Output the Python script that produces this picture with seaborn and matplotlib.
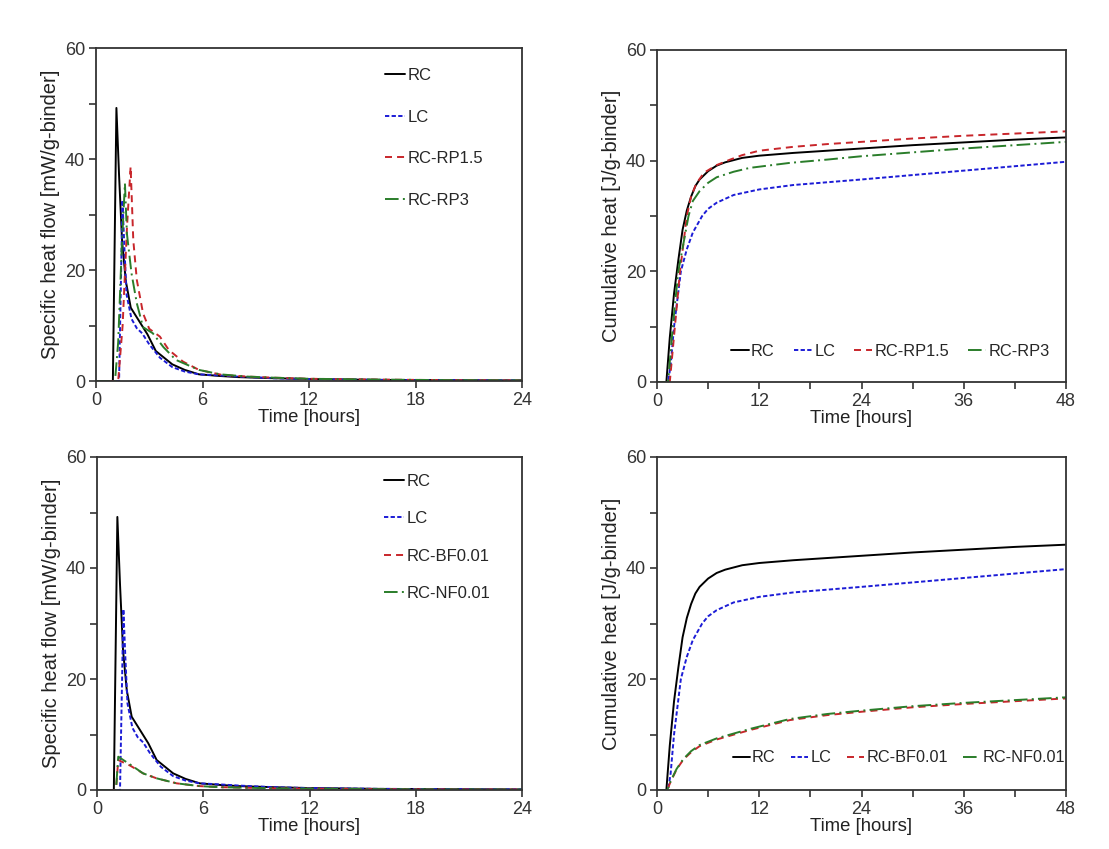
import numpy as np
import pandas as pd
import matplotlib
matplotlib.use("Agg")
import matplotlib.pyplot as plt
from matplotlib.ticker import MultipleLocator
import seaborn as sns

# ---------------- data ----------------
# Specific heat flow [mW/g-binder] vs time [h]
rc_flow_t = [0, 0.95, 1.15, 1.3, 1.47, 1.68, 1.96, 2.43, 2.9, 3.37, 4.3, 5.0, 5.8, 7.0, 8.0, 10, 12, 16, 20, 24]
rc_flow_q = [0, 0, 49.2, 37, 25.2, 18, 13.2, 10.8, 8.4, 5.4, 3.0, 2.0, 1.2, 0.9, 0.7, 0.5, 0.35, 0.2, 0.15, 0.1]

lc_flow_t = [0, 1.3, 1.49, 1.6, 1.72, 2.0, 2.3, 2.6, 3.0, 3.6, 4.3, 5.0, 5.8, 7.0, 8.0, 10, 12, 16, 20, 24]
lc_flow_q = [0, 0, 32.6, 24, 15.6, 11.2, 9.5, 8.6, 6.6, 4.2, 2.5, 1.7, 1.2, 1.0, 0.8, 0.5, 0.35, 0.2, 0.15, 0.1]

rp15_flow_t = [0, 1.25, 1.5, 1.75, 1.95, 2.1, 2.3, 2.65, 3.0, 3.6, 4.1, 4.9, 5.8, 7.1, 8.5, 10, 12, 16, 20, 24]
rp15_flow_q = [0, 0, 10, 28, 38.6, 25.4, 18.2, 12.2, 9.4, 8.0, 5.6, 3.5, 2.0, 1.1, 0.8, 0.6, 0.4, 0.25, 0.15, 0.1]

rp3_flow_t = [0, 1.07, 1.25, 1.45, 1.63, 1.74, 2.0, 2.3, 2.65, 3.2, 3.8, 4.5, 5.8, 7.0, 8.5, 10, 12, 16, 20, 24]
rp3_flow_q = [0, 0, 7, 24, 35.6, 26.6, 19.4, 14, 9.7, 8.6, 6.1, 3.8, 2.0, 1.2, 0.8, 0.6, 0.4, 0.25, 0.15, 0.1]

bf_flow_t = [0, 1.07, 1.2, 1.87, 2.6, 3.37, 4.5, 5.8, 7.0, 8.5, 10, 12, 16, 20, 24]
bf_flow_q = [0, 0, 5.4, 4.4, 3.0, 2.1, 1.2, 0.7, 0.5, 0.4, 0.3, 0.25, 0.15, 0.1, 0.08]

nf_flow_t = [0, 1.07, 1.2, 1.87, 2.6, 3.37, 4.5, 5.8, 7.0, 8.5, 10, 12, 16, 20, 24]
nf_flow_q = [0, 0, 6.0, 4.6, 3.0, 2.1, 1.2, 0.7, 0.5, 0.4, 0.3, 0.25, 0.15, 0.1, 0.08]

# Cumulative heat [J/g-binder] vs time [h]
rc_cum_t = [0, 1.1, 1.5, 2.0, 2.5, 3.0, 3.5, 4.0, 4.5, 5.0, 6.0, 7.0, 8.0, 10, 12, 16, 20, 24, 30, 36, 42, 48]
rc_cum_q = [0, 0, 8, 16, 22, 27.5, 31, 33.5, 35.4, 36.6, 38.1, 39.1, 39.7, 40.5, 40.9, 41.4, 41.8, 42.2, 42.8, 43.3, 43.8, 44.2]

lc_cum_t = [0, 1.3, 1.6, 2.0, 2.8, 3.5, 4.2, 5.3, 6.0, 7.0, 9.0, 12, 16, 20, 24, 30, 36, 42, 48]
lc_cum_q = [0, 0, 3, 10, 20, 24, 27, 30, 31.3, 32.4, 33.8, 34.8, 35.6, 36.1, 36.6, 37.4, 38.2, 39.0, 39.8]

rp15_cum_t = [0, 1.5, 2.1, 2.7, 3.5, 4.0, 4.6, 5.5, 7.0, 8.6, 10, 12, 16, 20, 24, 30, 36, 42, 48]
rp15_cum_q = [0, 0, 10, 20, 30, 33.5, 35.8, 37.8, 39.2, 40.2, 41.0, 41.8, 42.5, 43.0, 43.4, 44.0, 44.5, 44.9, 45.3]

rp3_cum_t = [0, 1.3, 1.85, 2.5, 3.7, 4.2, 5.0, 6.0, 7.0, 9.0, 10.9, 15.6, 20, 24, 30, 36, 42, 48]
rp3_cum_q = [0, 0, 10, 20, 30, 32.7, 34.5, 36.0, 37.0, 38.0, 38.7, 39.6, 40.2, 40.8, 41.5, 42.2, 42.8, 43.4]

bf_cum_t = [0, 1.2, 1.6, 2.3, 3.1, 4.0, 5.0, 7.0, 10.9, 15.6, 20, 24, 30, 36, 42, 48]
bf_cum_q = [0, 0, 1.5, 3.7, 5.5, 6.8, 7.9, 9.1, 10.8, 12.6, 13.5, 14.1, 14.9, 15.5, 16.0, 16.5]

nf_cum_t = [0, 1.2, 1.6, 2.3, 3.1, 4.0, 5.0, 7.0, 10.9, 15.6, 20, 24, 30, 36, 42, 48]
nf_cum_q = [0, 0, 1.6, 3.8, 5.6, 7.0, 8.1, 9.3, 11.0, 12.8, 13.7, 14.3, 15.1, 15.7, 16.2, 16.7]

labels_top = ["RC", "LC", "RC-RP1.5", "RC-RP3"]
labels_bot = ["RC", "LC", "RC-BF0.01", "RC-NF0.01"]

# ---------------- styling ----------------
sns.set_style("ticks")
plt.rcParams['font.family'] = ['Liberation Sans', 'DejaVu Sans']
plt.rcParams['font.size'] = 12

C_RC, C_LC, C_RED, C_GRN = "#000000", "#1c1cd6", "#c8262b", "#2a7d2a"
LS_RC = "-"
LS_LC = (0, (2.2, 1.2))
LS_RED = (0, (3.6, 2.6))
LS_GRN = (0, (7, 2.2, 1, 2.2))
LW = 1.4

fig = plt.figure(figsize=(11.09, 8.49), dpi=100)
W, H = 1109, 849


def add_ax(x0, y0, x1, y1):
    return fig.add_axes([x0 / W, 1 - y1 / H, (x1 - x0) / W, (y1 - y0) / H])


ax_tl = add_ax(96, 48, 522, 381)
ax_tr = add_ax(657, 50, 1066, 382)
ax_bl = add_ax(97, 457, 522, 790)
ax_br = add_ax(657, 457, 1066, 790)


def draw(ax, series, labels):
    for (t, q, c, ls), lab in zip(series, labels):
        df = pd.DataFrame({"t": t, "q": q})
        sns.lineplot(data=df, x="t", y="q", ax=ax, color=c, linestyle=ls,
                     linewidth=LW, estimator=None, sort=False, label=lab, legend=False)


def style(ax, xmax, xmaj, xmin, ylabel):
    ax.set_xlim(0, xmax)
    ax.set_ylim(0, 60)
    ax.xaxis.set_major_locator(MultipleLocator(xmaj))
    ax.xaxis.set_minor_locator(MultipleLocator(xmin))
    ax.yaxis.set_major_locator(MultipleLocator(20))
    ax.yaxis.set_minor_locator(MultipleLocator(10))
    ax.tick_params(which="both", direction="out", length=5, width=1.2, colors="#333333",
                   labelsize=13, pad=3)
    for s in ax.spines.values():
        s.set_visible(True)
        s.set_linewidth(1.3)
        s.set_color("#333333")
    ax.set_xlabel("Time [hours]", fontsize=13.3, labelpad=0, color="#222222")
    ax.set_ylabel(ylabel, fontsize=14.5, labelpad=3, color="#222222")


draw(ax_tl, [(rc_flow_t, rc_flow_q, C_RC, LS_RC), (lc_flow_t, lc_flow_q, C_LC, LS_LC),
             (rp15_flow_t, rp15_flow_q, C_RED, LS_RED), (rp3_flow_t, rp3_flow_q, C_GRN, LS_GRN)], labels_top)
draw(ax_bl, [(rc_flow_t, rc_flow_q, C_RC, LS_RC), (lc_flow_t, lc_flow_q, C_LC, LS_LC),
             (bf_flow_t, bf_flow_q, C_RED, LS_RED), (nf_flow_t, nf_flow_q, C_GRN, LS_GRN)], labels_bot)
draw(ax_tr, [(rc_cum_t, rc_cum_q, C_RC, LS_RC), (lc_cum_t, lc_cum_q, C_LC, LS_LC),
             (rp15_cum_t, rp15_cum_q, C_RED, LS_RED), (rp3_cum_t, rp3_cum_q, C_GRN, LS_GRN)], labels_top)
draw(ax_br, [(rc_cum_t, rc_cum_q, C_RC, LS_RC), (lc_cum_t, lc_cum_q, C_LC, LS_LC),
             (bf_cum_t, bf_cum_q, C_RED, LS_RED), (nf_cum_t, nf_cum_q, C_GRN, LS_GRN)], labels_bot)

style(ax_tl, 24, 6, 6, "Specific heat flow [mW/g-binder]")
style(ax_bl, 24, 6, 6, "Specific heat flow [mW/g-binder]")
style(ax_tr, 48, 12, 6, "Cumulative heat [J/g-binder]")
style(ax_br, 48, 12, 6, "Cumulative heat [J/g-binder]")

# legends
ax_tl.legend(loc="upper left", bbox_to_anchor=(0.66, 0.965), frameon=False, borderpad=0,
             handlelength=1.2, handletextpad=0.15, labelspacing=1.6, fontsize=12)
ax_bl.legend(loc="upper left", bbox_to_anchor=(0.655, 0.975), frameon=False, borderpad=0,
             handlelength=1.2, handletextpad=0.15, labelspacing=1.35, fontsize=12)
ax_tr.legend(loc="lower left", bbox_to_anchor=(0.16, 0.045), frameon=False, borderpad=0, ncol=4,
             handlelength=1.1, handletextpad=0.15, columnspacing=1.15, fontsize=11.8)
ax_br.legend(loc="lower left", bbox_to_anchor=(0.165, 0.05), frameon=False, borderpad=0, ncol=4,
             handlelength=1.05, handletextpad=0.15, columnspacing=0.95, fontsize=11.7)

fig.savefig("out.png", dpi=100, facecolor="white")
